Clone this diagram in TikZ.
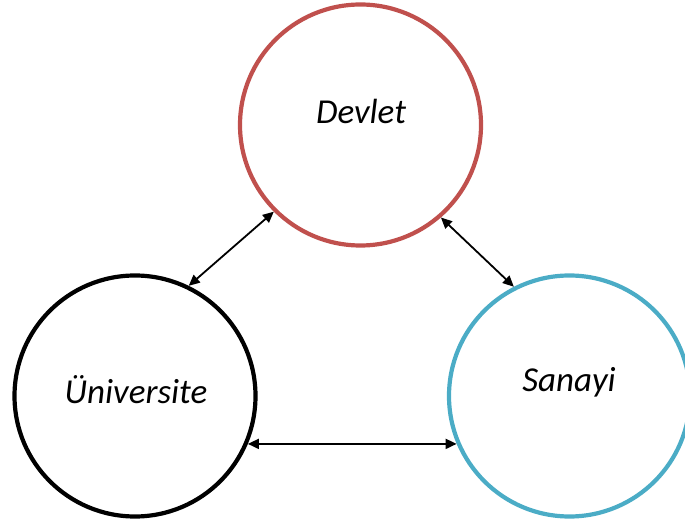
\documentclass[tikz,border=0pt]{standalone}
\usepackage{fontspec}
\setmainfont{Carlito}
\usetikzlibrary{arrows.meta}
\definecolor{devletred}{RGB}{192,80,77}
\definecolor{sanayiblue}{RGB}{75,172,198}
\tikzset{
  actor/.style={circle,draw,line width=4.2pt,minimum size=241pt,inner sep=0pt},
  tag/.style={font=\fontsize{35}{42}\selectfont\itshape},
  link/.style={{Triangle[length=11pt,width=10pt]}-{Triangle[length=11pt,width=10pt]},line width=1.8pt}
}
\begin{document}
\begin{tikzpicture}
	\useasboundingbox (0,0) rectangle (685pt,522pt);
	\node[actor,draw=devletred] (dev) at (360.5pt,397pt) {};
	\node[actor,draw=black] (uni) at (135pt,126pt) {};
	\node[actor,draw=sanayiblue] (san) at (569.5pt,126pt) {};
	\node[tag] (devt) at (361pt,411pt) {Devlet};
	\node[tag] (unit) at (136pt,132pt) {Üniversite};
	\node[tag] (sant) at (569pt,140pt) {Sanayi};
	\draw[link] (dev.225) -- (uni.64.5);
	\draw[link] (dev.311.5) -- (san.117);
	\draw[link] (uni.337) -- (san.203);
\end{tikzpicture}
\end{document}
